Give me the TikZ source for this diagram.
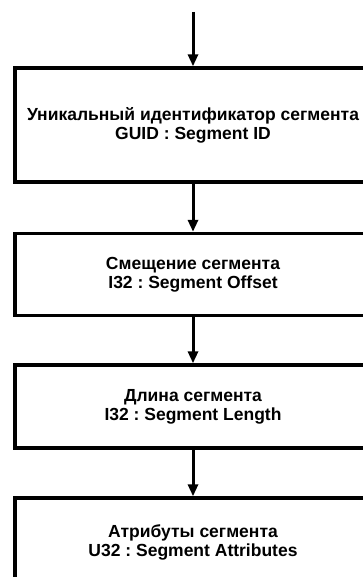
\documentclass[tikz,border=0pt]{standalone}
\usepackage{fontspec}
\setmainfont{Liberation Sans}
\usetikzlibrary{arrows.meta}
\frenchspacing
\tikzset{
  segbox/.style={draw, rectangle, line width=3.4pt, minimum width=356pt, inner sep=2pt,
    align=center, font=\bfseries\fontsize{17.5pt}{19pt}\selectfont},
  flow/.style={line width=3pt, -{Triangle[width=10pt,length=12pt]}}
}
\begin{document}
\begin{tikzpicture}[x=1pt,y=-1pt]
\useasboundingbox (0,0) rectangle (363,577);
\clip (0,0) rectangle (363,577);
\fill[white] (0,0) rectangle (363,577);
\coordinate (start) at (193,12);
\node[segbox, minimum height=114pt] (b1) at (193,125)
  {Уникальный идентификатор сегмента\\GUID : Segment ID};
\node[segbox, minimum height=82pt] (b2) at (193,274.5)
  {Смещение сегмента\\I32 : Segment Offset};
\node[segbox, minimum height=83pt] (b3) at (193,406.5)
  {Длина сегмента\\I32 : Segment Length};
\node[segbox, minimum height=88pt] (b4) at (193,542)
  {Атрибуты сегмента\\U32 : Segment Attributes};
\draw[flow] (start) -- (b1.north);
\draw[flow] (b1.south) -- (b2.north);
\draw[flow] (b2.south) -- (b3.north);
\draw[flow] (b3.south) -- (b4.north);
\end{tikzpicture}
\end{document}
